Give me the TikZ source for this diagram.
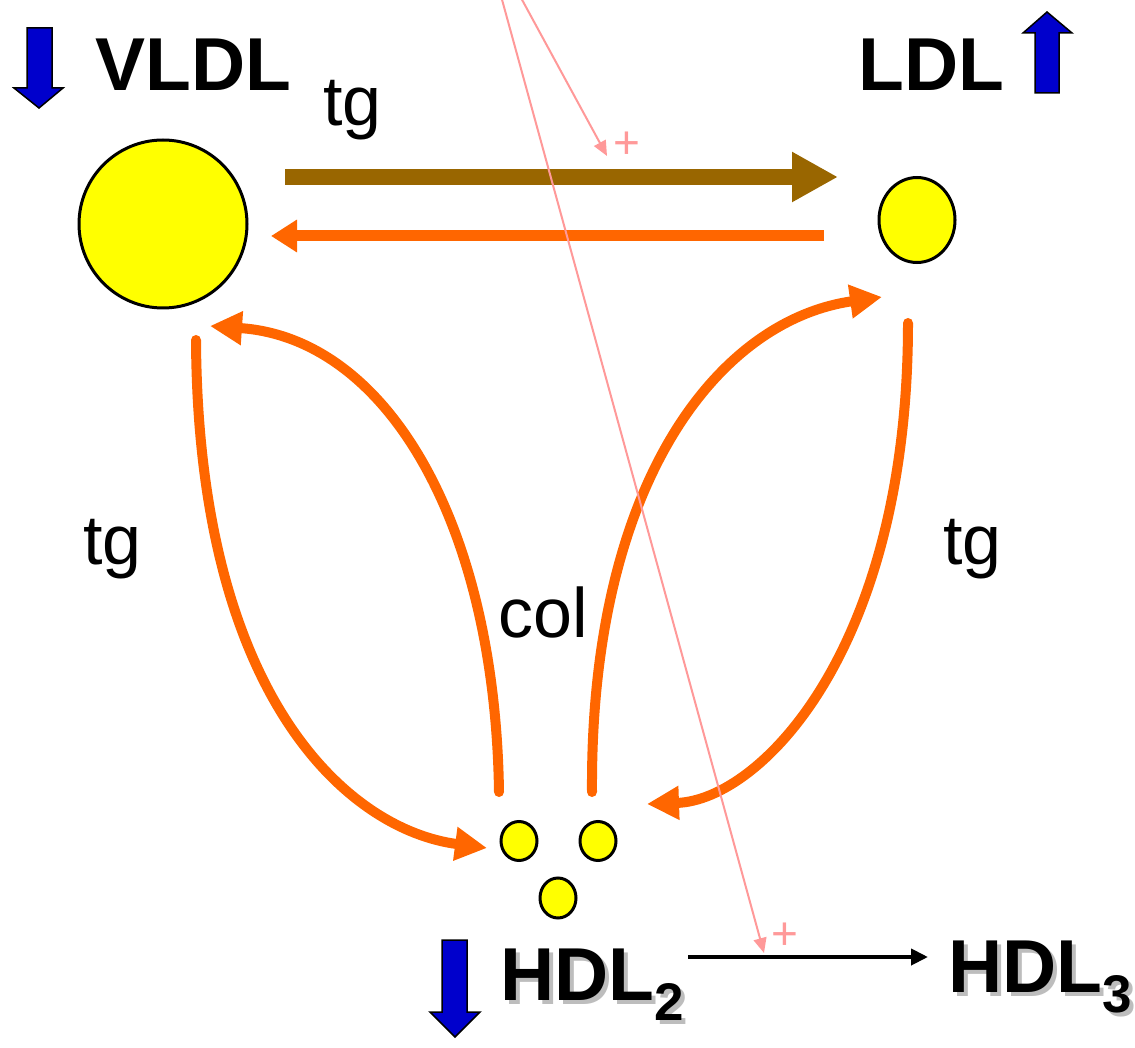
\documentclass[tikz,border=0pt]{standalone}
\usepackage{fontspec}
\setmainfont{Liberation Sans}
\usetikzlibrary{arrows.meta,shapes.geometric}
\definecolor{orangeflow}{HTML}{FF6600}
\definecolor{brownflow}{HTML}{996600}
\definecolor{pinkflow}{HTML}{FF9999}
\definecolor{bluemark}{HTML}{0000CC}
\definecolor{lpyellow}{HTML}{FFFF00}
\definecolor{shadowgray}{HTML}{BDBDBD}

\begin{document}
\begin{tikzpicture}[x=1pt,y=-1pt,
  particle/.style={ellipse, draw=black, fill=lpyellow, line width=3pt, inner sep=0pt},
  bigname/.style={font=\fontsize{75}{80}\selectfont\bfseries, inner sep=0pt, anchor=base west},
  enzyme/.style={font=\fontsize{70}{80}\selectfont, inner sep=0pt, anchor=base west},
  plussign/.style={font=\fontsize{46}{50}\selectfont, text=pinkflow, inner sep=0pt},
  flow/.style={orangeflow, line width=10pt, line cap=round,
    -{Triangle[length=32pt,width=32pt]}},
  transfer/.style={brownflow, line width=16pt, -{Triangle[length=46pt,width=47pt]}},
  backflow/.style={orangeflow, line width=11pt, -{Triangle[length=26pt,width=31pt]}},
  activation/.style={pinkflow, line width=2pt, -{Triangle[length=15pt,width=13pt]}},
  conversion/.style={black, line width=4pt, -{Triangle[length=17pt,width=16pt]}},
  levelmark/.style={fill=bluemark, draw=black, line width=1.5pt, line join=miter},
]
\useasboundingbox (0,0) rectangle (1135,1048);

% lipoprotein particles
\node[particle, minimum width=168pt, minimum height=168pt] (vldl) at (163,224) {};
\node[particle, minimum width=76pt, minimum height=85pt] (ldl) at (917,220) {};
\node[particle, minimum width=36pt, minimum height=39pt] (hdla) at (519,841) {};
\node[particle, minimum width=36pt, minimum height=39pt] (hdlb) at (598,841) {};
\node[particle, minimum width=36pt, minimum height=40pt] (hdlc) at (558,898) {};

% labels
\node[bigname] (vldllabel) at (95,91) {VLDL};
\node[bigname] (ldllabel) at (858,91) {LDL};
\node[bigname, text=shadowgray] (hdltwoshadow) at (504,1004)
  {HDL\raisebox{-20pt}{\fontsize{53}{60}\selectfont 2}};
\node[bigname] (hdltwo) at (500,1000)
  {HDL\raisebox{-20pt}{\fontsize{53}{60}\selectfont 2}};
\node[bigname, text=shadowgray] (hdlthreeshadow) at (952,996)
  {HDL\raisebox{-20pt}{\fontsize{53}{60}\selectfont 3}};
\node[bigname] (hdlthree) at (948,992)
  {HDL\raisebox{-20pt}{\fontsize{53}{60}\selectfont 3}};

\node[enzyme] (tgtop) at (323,126) {tg};
\node[enzyme] (tgleft) at (83,564) {tg};
\node[enzyme] (tgright) at (943,564) {tg};
\node[enzyme] (col) at (498,637) {col};

% up / down markers
\filldraw[levelmark] (27,28) -- (52,28) -- (52,88) -- (63,88) -- (39,108)
  -- (14,88) -- (27,88) -- cycle;
\filldraw[levelmark] (1035,93) -- (1059,93) -- (1059,33) -- (1072,33) -- (1047,12)
  -- (1023,33) -- (1035,33) -- cycle;
\filldraw[levelmark] (442,940) -- (467,940) -- (467,1012) -- (480,1012) -- (455,1037)
  -- (430,1012) -- (442,1012) -- cycle;

% connector end points
\coordinate (tfrom) at (285,177);
\coordinate (tto) at (838,177);
\coordinate (bfrom) at (824,236);
\coordinate (bto) at (271,236);
\coordinate (vout) at (196,340);
\coordinate (hin) at (487,848);
\coordinate (colout) at (499,792);
\coordinate (colin) at (210,326);
\coordinate (hout) at (592,792);
\coordinate (lin) at (882,297);
\coordinate (lout) at (908,323);
\coordinate (hinright) at (647,804);
\coordinate (convfrom) at (688,957);
\coordinate (convto) at (928,957);
\coordinate (pinkatop) at (501,-4);
\coordinate (pinkaend) at (764,953);
\coordinate (pinkbtop) at (520,-4);
\coordinate (pinkbend) at (607,156);

% exchanges between the particles
\draw[transfer] (tfrom) -- (tto);
\draw[backflow] (bfrom) -- (bto);
\draw[flow] (vout) .. controls (198,700) and (350,830) .. (hin);
\draw[flow] (colout) .. controls (495,520) and (385,338) .. (colin);
\draw[flow] (hout) .. controls (590,480) and (720,320) .. (lin);
\draw[flow] (lout) .. controls (908,650) and (760,800) .. (hinright);
\draw[conversion] (convfrom) -- (convto);

% activating influences
\draw[activation] (pinkatop) -- (pinkaend);
\draw[activation] (pinkbtop) -- (pinkbend);
\node[plussign] (plusa) at (627,145) {+};
\node[plussign] (plusb) at (785,936) {+};
\end{tikzpicture}
\end{document}
